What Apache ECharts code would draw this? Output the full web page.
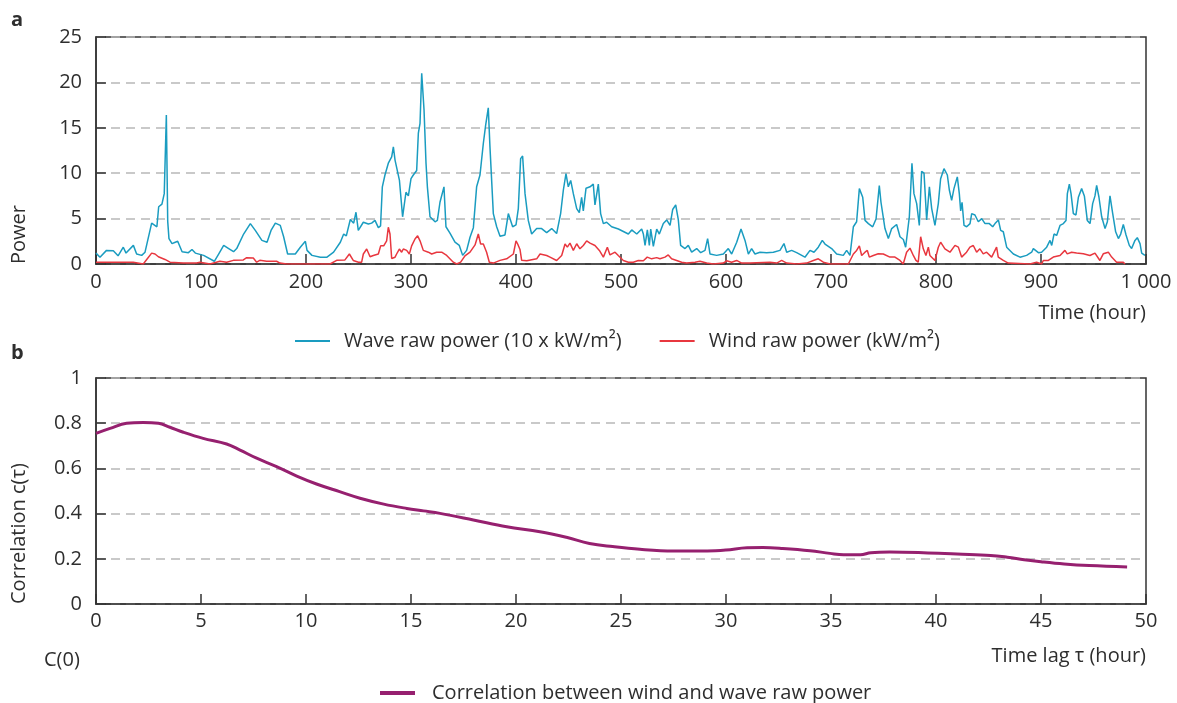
<!DOCTYPE html>
<html>
<head>
<meta charset="utf-8">
<script src="https://cdn.jsdelivr.net/npm/echarts@6/dist/echarts.min.js"></script>
<style>
html,body{margin:0;padding:0;background:#fff;}
#c{width:1177px;height:703px;}
</style>
</head>
<body>
<div id="c"></div>
<script>
// ---- DATA ----
// Panel a: time (hour) and power
const waveRawPower = [
[0,1.2],[3.8,0.75],[10,1.5],[16.5,1.45],[21,0.9],[26,1.85],[28.6,1.2],[35.6,2.05],[38.7,1.1],[43.5,0.95],
[46.7,1.3],[53,4.5],[58,4.1],[59.7,6.3],[62.8,6.6],[65,7.75],[67,16.4],[68.3,4.7],[69.5,2.8],[72.4,2.25],
[75.5,2.4],[77.8,2.5],[82,1.35],[88,1.25],[91.4,1.6],[94.6,1.2],[102.5,0.95],[112.7,0.3],[116.8,1.1],[121.6,2.05],
[126.4,1.7],[131,1.35],[134,1.7],[140.6,3.3],[147,4.45],[151.7,3.7],[158,2.6],[162.9,2.4],[166.7,3.7],[170.8,4.5],
[175.5,4.25],[178.7,3.0],[182.5,1.1],[189.8,1.1],[194.6,1.85],[199.4,2.5],[201,1.5],[205.7,0.95],[213.7,0.75],[220,0.75],
[226.3,1.3],[232.7,2.4],[235.9,3.3],[238.4,3.1],[242.2,4.9],[245.4,4.5],[247.6,5.7],[249.8,3.7],[254.6,4.6],[259.4,4.4],
[262.5,4.5],[265.7,4.8],[268.9,4.0],[271,4.2],[272.7,8.5],[275.2,9.8],[278.4,11.1],[281.6,11.8],[283.2,12.9],[284.8,11.45],
[289,9.2],[292,5.2],[295.2,7.9],[297.5,7.5],[300,9.4],[302.2,9.8],[305.4,10.3],[307,14.4],[308.6,15.5],[310.2,21.0],
[312.4,17.0],[314.3,11.1],[315.6,8.5],[318.1,5.2],[322.9,4.65],[325.1,4.8],[327.6,6.8],[331.4,8.5],[333.3,4.1],[337.1,3.4],
[341.9,2.4],[346,2.05],[349.2,0.95],[353,1.5],[356.2,2.95],[359.4,4.0],[362.5,8.5],[365.7,9.8],[368.9,13.3],[371.1,15.3],
[373.6,17.2],[375.2,12.9],[378.4,5.55],[381.6,4.1],[384.8,3.05],[389.5,3.2],[392.7,5.55],[396.8,4.1],[400,4.3],[402.2,6.1],
[404.4,11.6],[406.3,11.9],[408.6,7.75],[411.7,4.8],[414.9,3.3],[419.7,3.9],[424.4,3.9],[429.2,3.45],[434,3.9],[438.7,3.35],
[442.5,5.55],[445.1,8.15],[447.6,9.95],[449.8,8.5],[452.1,9.2],[454.6,7.75],[457.8,6.1],[460.3,5.65],[462.5,7.35],[464.1,5.85],
[466.7,8.35],[470.5,8.5],[473.6,8.8],[475.2,6.5],[478.4,8.8],[480.6,5.55],[483.2,4.45],[486.3,4.6],[491.1,4.1],[497.5,3.85],
[507,3.3],[510.2,3.75],[515,3.3],[519.7,3.85],[521.3,3.3],[522.9,2.05],[525.1,3.75],[527,2.05],[528.3,3.85],[530.8,1.95],
[534,3.85],[536.5,3.3],[540.3,4.45],[543.5,4.85],[546.7,4.25],[549.2,6.0],[552.1,6.5],[554.6,4.85],[556.8,2.05],[561,1.7],
[564.1,2.05],[567.3,1.3],[572.1,1.7],[575.9,1.25],[580,1.5],[582.5,2.8],[584.8,1.1],[591.1,0.95],[597.5,1.1],[602.2,1.7],
[605.4,1.1],[610.2,2.4],[614.3,3.85],[618.1,2.6],[621.3,1.1],[624.4,1.7],[627.6,1.1],[632.4,1.3],[638.7,1.25],[645.1,1.3],
[651.4,1.5],[655.2,2.25],[657.8,1.3],[662.5,1.5],[667.3,1.25],[675.2,0.75],[680,1.5],[683.8,1.3],[687.9,1.85],[691.7,2.6],
[694.3,2.2],[700.6,1.7],[705.4,1.1],[711.7,0.95],[714.9,1.5],[718.1,0.95],[721.3,4.1],[724.4,4.65],[727,8.3],[728.6,8.5],
[730.2,7.35],[732.4,4.8],[735.6,4.45],[739.7,4.1],[742.9,4.95],[746,8.65],[747.6,6.8],[749.2,6.65],[751.4,3.9],[754.6,2.8],
[757.8,3.9],[762.5,4.35],[765.7,3.0],[768.9,2.7],[771.1,1.85],[774.6,5.2],[777.1,11.1],[779,7.75],[781.6,6.65],[784.1,4.25],
[786.3,10.2],[788.6,10.0],[791.1,4.85],[793.7,8.5],[795.9,6.1],[799,4.25],[802.2,6.65],[804.4,9.4],[807.6,10.5],[810.8,9.8],
[812.7,8.15],[814.9,7.0],[817.1,8.3],[820.3,9.6],[822.2,7.75],[823.5,5.85],[824.8,6.8],[826.7,4.25],[829.2,4.1],[832.4,4.45],
[834,5.55],[837.1,5.4],[840.3,4.65],[843.5,5.0],[846.7,4.45],[850.8,4.45],[854,4.1],[856.2,4.45],[859.4,4.85],[861.6,3.7],
[864.1,3.55],[867.3,1.85],[873.7,1.1],[880,0.75],[886.3,0.95],[891.1,1.3],[892.7,1.7],[897.5,1.25],[900.6,1.3],[905.4,1.85],
[908.6,2.6],[910.2,2.05],[912.4,3.3],[914.9,3.15],[918.1,4.25],[921.3,4.45],[923.8,4.8],[925.1,7.75],[927,8.8],[928.6,7.75],
[930.8,5.55],[933.3,5.4],[935.6,7.35],[938.7,8.3],[941.3,7.5],[944.1,4.8],[946.7,4.45],[949.2,6.65],[951.4,7.5],[953,8.65],
[955.2,7.35],[957.8,5.2],[961,3.9],[963.2,4.65],[965.7,7.5],[968.3,5.55],[971.1,3.55],[973.7,2.8],[975.9,3.3],[978.4,4.35],
[981,3.2],[984.1,2.05],[986.3,1.7],[989.5,2.6],[991.7,2.9],[994.3,2.25],[995.9,1.2],[999,0.95]
];

const windRawPower = [
[0,0.2],[20,0.2],[35.5,0.2],[45,0],[48.3,0.5],[53,1.2],[56.2,1.1],[59.4,0.8],[65.7,0.5],[70.5,0.2],
[83,0.1],[95.9,0.1],[99,0.2],[108.6,0],[118,0.3],[124.4,0.2],[130.8,0.4],[140.3,0.45],[143.5,0.7],[149.8,0.65],
[153,0.2],[156,0.4],[162.5,0.3],[172,0.3],[175.2,0.1],[181.6,0],[222.9,0],[229.2,0.4],[237.1,0.45],[241.3,1.1],
[245,0.39],[250,0.2],[253,0.2],[254.6,1.1],[257.8,1.65],[261,0.8],[264.1,0.94],[268.9,1.1],[271.1,2.0],[274,2.0],
[276.8,2.55],[278.4,4.05],[280,3.3],[281.6,0.6],[284.8,0.75],[286.3,1.1],[288.9,1.65],[291.1,1.3],[292.7,1.65],[295.9,1.5],
[298.4,1.1],[300.6,2.0],[303.8,2.75],[306.3,3.1],[308.6,2.55],[311.7,1.5],[316.5,1.3],[319.7,1.1],[324.4,1.3],[329.2,1.3],
[334,0.94],[340.3,0.2],[343.5,0],[347.3,0.2],[351.4,0.9],[356.2,1.3],[361,2.1],[364.1,3.3],[366.3,2.2],[368.9,2.2],
[372,1.3],[374.6,0.2],[378.4,0.1],[384.8,0.4],[391.1,0.57],[397.5,1.1],[400,2.55],[401.6,2.2],[403.8,1.6],[405.4,0.4],
[410.2,0.35],[419.7,0.57],[422.9,1.1],[429.2,0.94],[432.4,0.76],[438.7,0.39],[443.5,0.94],[446.7,2.2],[448.9,1.86],[451.4,2.3],
[454.6,1.5],[457.8,2.23],[460.9,1.67],[464.1,2.04],[467.3,2.55],[470.5,2.3],[475.2,2.04],[479.4,1.5],[483.2,0.76],[487,1.85],
[489.5,1.0],[494.3,1.3],[497.4,0.94],[502.2,0.39],[507,0.2],[511.7,0.2],[516.5,0.39],[521.3,0.35],[525,0.76],[529.2,0.57],
[534,0.7],[537.1,0.57],[541.9,0.76],[545,1.0],[548.2,0.57],[553,0.39],[557.8,0.2],[562.5,0.1],[570.5,0.2],[575.2,0.3],
[581.6,0.1],[587.9,0],[597.4,0.1],[600.6,0.35],[605.3,0.2],[610.1,0.39],[614.9,0.1],[622.8,0.1],[641.9,0.2],[648.3,0.1],
[653,0.39],[657.8,0.1],[667.3,0],[676.8,0.1],[683.2,0.39],[687.9,0.57],[692.7,0.2],[699,0],[716.5,0],[721.3,1.1],
[724.4,1.49],[727,2.0],[729.2,0.94],[732.4,1.3],[734.6,1.49],[736.5,0.76],[740.3,0.94],[745,1.12],[749.8,1.1],[751.4,0.94],
[756.1,0.76],[760.9,0.76],[765.7,0.39],[768.8,0],[772,1.3],[775.2,1.75],[778.4,0.94],[780.9,0.39],[783.1,0.2],[785.4,3.0],
[787.9,1.67],[790.4,0.94],[792.7,1.85],[794.2,0.94],[799,0.39],[802.2,1.85],[804.4,2.4],[808.5,1.67],[813.3,1.3],[818.1,2.05],
[821.3,1.86],[824.4,0.76],[829.1,1.3],[832.3,1.86],[835.5,2.04],[838.7,1.3],[841.8,1.67],[845,1.12],[848.2,1.3],[853,0.76],
[857.7,1.85],[859.3,0.76],[864.1,0.39],[868.8,0.1],[889.5,0],[895.8,0.2],[900.6,0],[902.2,0.39],[907,0.39],[911.7,0.76],
[918.1,0.94],[922.8,1.5],[925,1.12],[929.1,1.3],[933.9,1.2],[940.3,1.12],[946.6,0.94],[951.4,1.2],[956.1,0.39],[959.3,1.12],
[964.1,1.3],[967.3,0.76],[972,0.2],[978.4,0.2],[980,0]
];

// Panel b: time lag tau (hour) and correlation
const correlation = [
[0,0.755],[0.67,0.777],[1.46,0.8],[2.25,0.803],[2.97,0.8],[3.52,0.782],[4.16,0.76],[5.1,0.733],[6.22,0.708],[6.86,0.681],
[7.65,0.645],[8.6,0.608],[9.56,0.566],[10.5,0.531],[11.6,0.497],[12.57,0.468],[13.7,0.442],[14.8,0.423],[15.6,0.412],[16.38,0.401],
[17.97,0.372],[19.56,0.342],[21.14,0.32],[22.4,0.295],[23.5,0.268],[24.6,0.254],[25.9,0.242],[27.5,0.235],[29.1,0.235],[30,0.239],
[31,0.249],[31.75,0.25],[32.7,0.246],[34,0.236],[34.95,0.224],[35.6,0.218],[36.4,0.218],[36.9,0.227],[37.8,0.23],[39.4,0.227],
[41,0.221],[42.6,0.215],[43.4,0.207],[44.2,0.196],[45,0.187],[46.1,0.177],[47.3,0.17],[49.1,0.164]
];

const xTickLabelsA = ['0','100','200','300','400','500','600','700','800','900','1 000'];
const seriesNames = ['Wave raw power (10 x kW/m²)', 'Wind raw power (kW/m²)', 'Correlation between wind and wave raw power'];

// ---- CHART ----
const FONT = '"Open Sans", "Noto Sans", sans-serif';
const TXT = '#2e2e2e';
const chart = echarts.init(document.getElementById('c'), null, {renderer: 'canvas'});

const axisLineStyle = {show: true, lineStyle: {color: '#333', width: 1.5}};
const tickStyle = {show: true, inside: true, length: 10, lineStyle: {color: '#333', width: 1.5}};
const splitStyle = {show: true, lineStyle: {color: '#b8b8b8', width: 1.5, type: [9, 6]}};
const labelBase = {color: TXT, fontFamily: FONT, fontSize: 20};

chart.setOption({
  animation: false,
  backgroundColor: '#fff',
  textStyle: {fontFamily: FONT},
  grid: [
    {left: 96, top: 37, width: 1050, height: 227, show: true, borderColor: '#333', borderWidth: 1.5, backgroundColor: 'transparent'},
    {left: 96, top: 378, width: 1050, height: 226, show: true, borderColor: '#333', borderWidth: 1.5, backgroundColor: 'transparent'}
  ],
  xAxis: [
    {type: 'value', gridIndex: 0, min: 0, max: 1000, interval: 100,
     axisLine: axisLineStyle, axisTick: tickStyle, splitLine: {show: false},
     axisLabel: Object.assign({margin: 8, formatter: v => xTickLabelsA[Math.round(v / 100)]}, labelBase)},
    {type: 'value', gridIndex: 1, min: 0, max: 50, interval: 5,
     axisLine: axisLineStyle, axisTick: tickStyle, splitLine: {show: false},
     axisLabel: Object.assign({margin: 7}, labelBase)}
  ],
  yAxis: [
    {type: 'value', gridIndex: 0, min: 0, max: 25, interval: 5,
     axisLine: axisLineStyle, axisTick: tickStyle, splitLine: splitStyle,
     axisLabel: Object.assign({margin: 14}, labelBase)},
    {type: 'value', gridIndex: 1, min: 0, max: 1, interval: 0.2,
     axisLine: axisLineStyle, axisTick: tickStyle, splitLine: splitStyle,
     axisLabel: Object.assign({margin: 14, formatter: v => (v === 0 || v === 1) ? String(v) : v.toFixed(1)}, labelBase)}
  ],
  legend: [
    {id: 'legA', show: true, data: [seriesNames[0], seriesNames[1]], orient: 'horizontal', padding: 0,
     left: 295, top: 331, itemWidth: 35, itemHeight: 2, itemGap: 38, icon: 'rect',
     textStyle: {color: TXT, fontFamily: FONT, fontSize: 20, padding: [0, 0, 0, 9]}},
    {id: 'legB', show: true, data: [seriesNames[2]], orient: 'horizontal', padding: 0,
     left: 380, top: 683, itemWidth: 35, itemHeight: 4, itemGap: 20, icon: 'rect',
     textStyle: {color: TXT, fontFamily: FONT, fontSize: 20, padding: [0, 0, 0, 12]}}
  ],
  series: [
    {name: seriesNames[0], type: 'line', xAxisIndex: 0, yAxisIndex: 0, data: waveRawPower,
     symbol: 'none', lineStyle: {color: '#1a9cc0', width: 1.5}, itemStyle: {color: '#1a9cc0'}, z: 3},
    {name: seriesNames[1], type: 'line', xAxisIndex: 0, yAxisIndex: 0, data: windRawPower,
     symbol: 'none', lineStyle: {color: '#e8373f', width: 1.5}, itemStyle: {color: '#e8373f'}, z: 4},
    {name: seriesNames[2], type: 'line', xAxisIndex: 1, yAxisIndex: 1, data: correlation,
     symbol: 'none', smooth: 0.4, lineStyle: {color: '#96206f', width: 3}, itemStyle: {color: '#96206f'}, z: 3}
  ],
  graphic: [
    {type: 'text', left: 11, top: 10, style: {text: 'a', fill: TXT, font: 'bold 20px ' + FONT}},
    {type: 'text', left: 11, top: 343, style: {text: 'b', fill: TXT, font: 'bold 20px ' + FONT}},
    {type: 'text', x: 19, y: 264, rotation: Math.PI / 2, style: {text: 'Power', fill: TXT, font: '20px ' + FONT, align: 'left', verticalAlign: 'middle'}},
    {type: 'text', x: 19, y: 604, rotation: Math.PI / 2, style: {text: 'Correlation c(τ)', fill: TXT, font: '20px ' + FONT, align: 'left', verticalAlign: 'middle'}},
    {type: 'text', x: 1146, y: 313, style: {text: 'Time (hour)', fill: TXT, font: '20px ' + FONT, align: 'right', verticalAlign: 'middle'}},
    {type: 'text', x: 1146, y: 656, style: {text: 'Time lag τ (hour)', fill: TXT, font: '20px ' + FONT, align: 'right', verticalAlign: 'middle'}},
    {type: 'text', x: 44, y: 660, style: {text: 'C(0)', fill: TXT, font: '20px ' + FONT, align: 'left', verticalAlign: 'middle'}}
  ]
});
</script>
</body>
</html>
